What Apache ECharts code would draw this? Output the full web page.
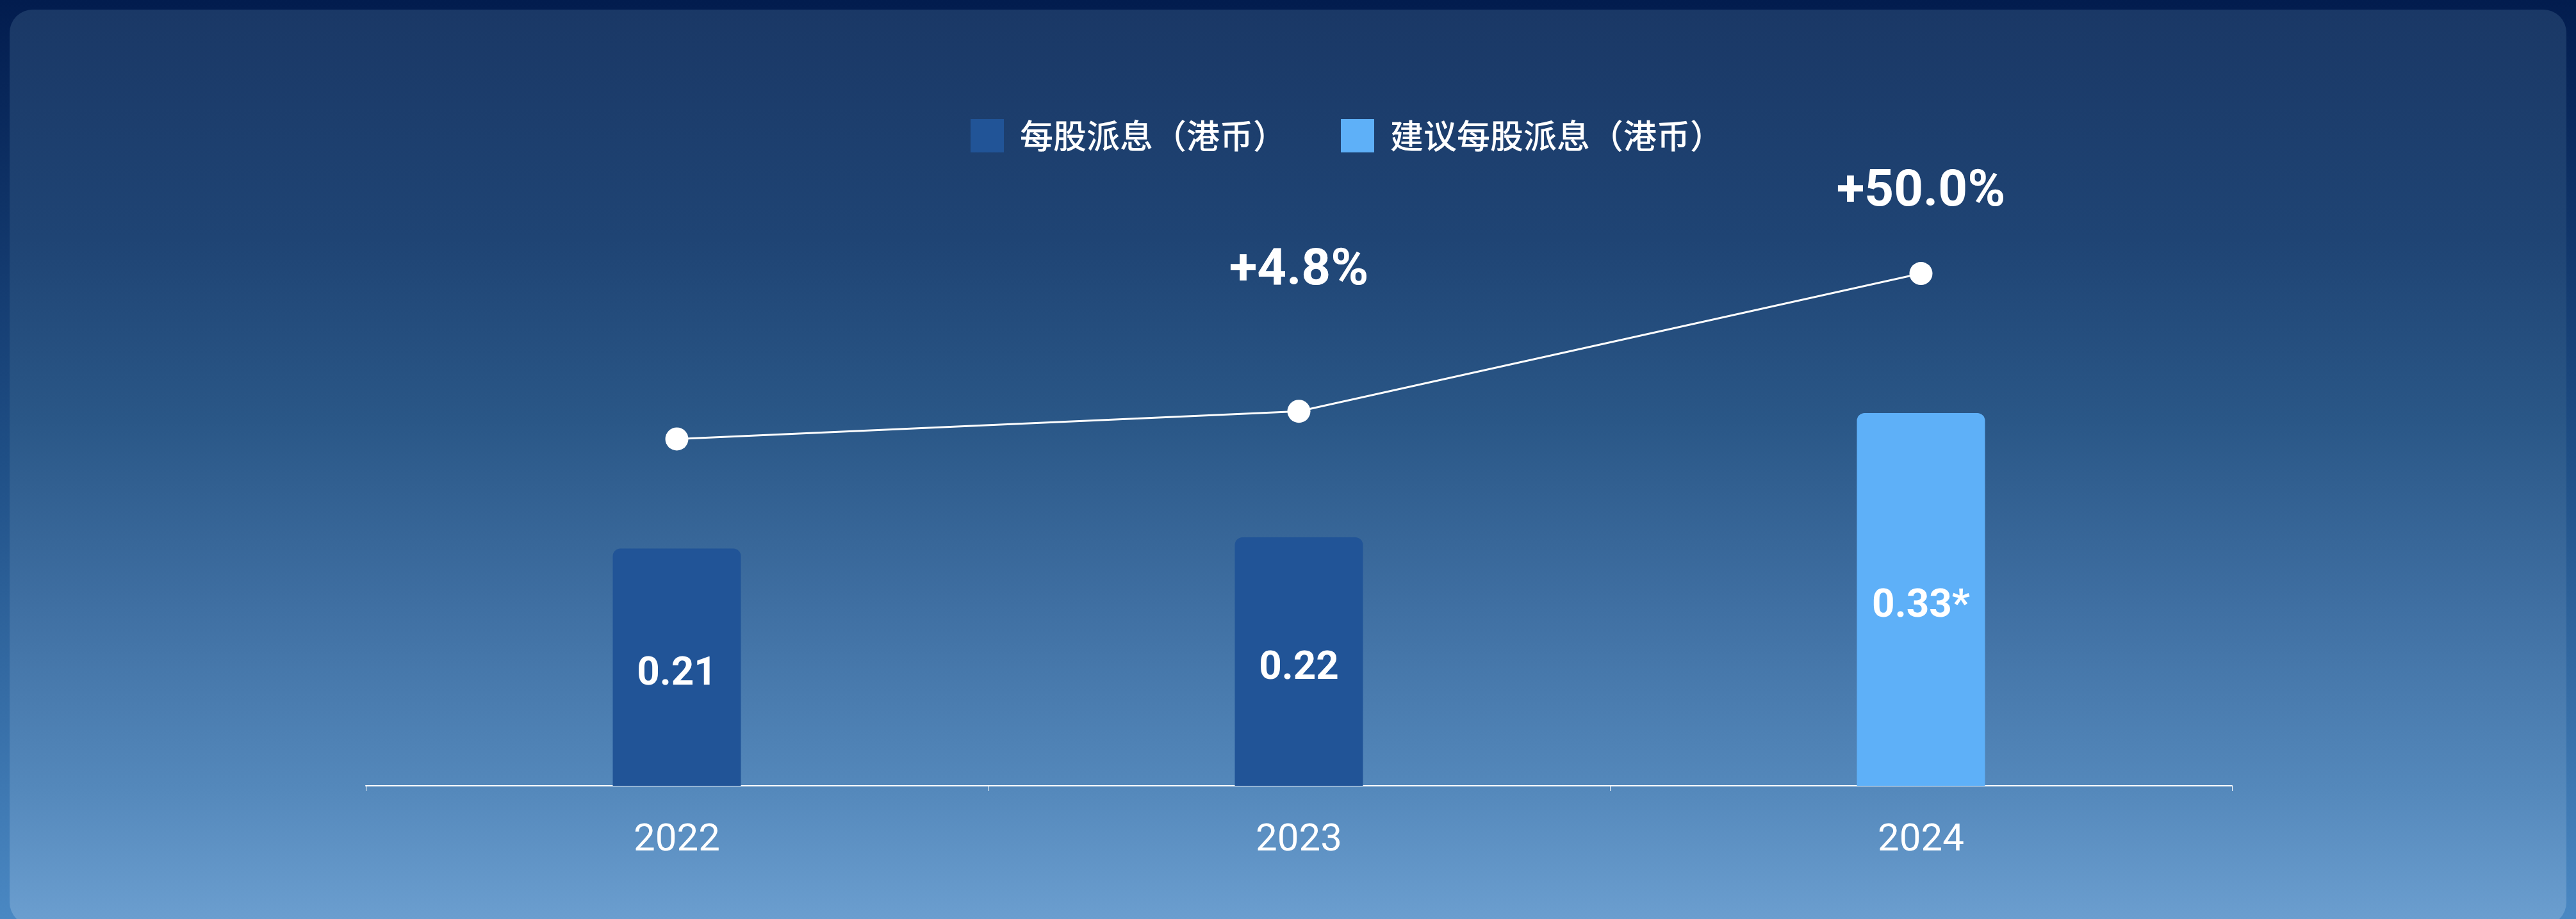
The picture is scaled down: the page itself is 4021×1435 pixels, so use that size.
<!DOCTYPE html>
<html>
<head>
<meta charset="utf-8">
<style>
html,body{margin:0;padding:0;width:4021px;height:1435px;overflow:hidden;background:#021d4f;}
#chart{width:4021px;height:1435px;}
</style>
<script src="https://cdn.jsdelivr.net/npm/echarts@6/dist/echarts.min.js"></script>
</head>
<body>
<div id="chart"></div>
<script>
var categories = ['2022', '2023', '2024'];
var seriesNames = ['每股派息（港币）', '建议每股派息（港币）'];
var dividend = [0.21, 0.22, '-'];
var proposedDividend = ['-', '-', 0.33];
var barLabels = ['0.21', '0.22', '0.33*'];
var trendLine = [0.614, 0.663, 0.907];
var growthLabels = ['', '+4.8%', '+50.0%'];
var growthLabelDistance = [0, 160, 68];

var chart = echarts.init(document.getElementById('chart'), null, {renderer: 'canvas'});

function barLabel(p) { return barLabels[p.dataIndex]; }

var lineData = trendLine.map(function (v, i) {
  return {
    value: v,
    label: {
      show: growthLabels[i] !== '',
      distance: growthLabelDistance[i]
    }
  };
});

var option = {
  backgroundColor: {
    type: 'linear', x: 0, y: 0, x2: 0, y2: 1,
    colorStops: [
      {offset: 0, color: '#021c4e'},
      {offset: 0.5, color: '#1f4f86'},
      {offset: 1, color: '#4a88c3'}
    ]
  },
  graphic: [{
    type: 'rect',
    z: -10,
    silent: true,
    shape: {x: 15, y: 15, width: 3991, height: 1430, r: 36},
    style: {
      fill: {
        type: 'linear', x: 0, y: 0, x2: 0, y2: 1,
        colorStops: [
          {offset: 0, color: '#1a3866'},
          {offset: 0.25, color: '#1f4474'},
          {offset: 0.45, color: '#2a5787'},
          {offset: 0.65, color: '#3f6fa2'},
          {offset: 0.85, color: '#5488bb'},
          {offset: 1, color: '#6c9fd0'}
        ]
      }
    }
  }],
  legend: {
    left: 1510,
    top: 181,
    itemWidth: 52,
    itemHeight: 52,
    itemGap: 85,
    icon: 'rect',
    data: seriesNames,
    textStyle: {
      color: '#ffffff',
      fontSize: 52,
      fontWeight: 500,
      fontFamily: 'Noto Sans CJK SC',
      padding: [0, 0, 0, 20]
    }
  },
  grid: {left: 571, right: 537, top: 345, bottom: 208, containLabel: false},
  xAxis: {
    type: 'category',
    data: categories,
    boundaryGap: true,
    axisLine: {show: true, lineStyle: {color: '#ffffff', width: 2}},
    axisTick: {show: true, length: 8, lineStyle: {color: '#ffffff', width: 1}},
    axisLabel: {color: '#ffffff', fontSize: 60, fontFamily: 'Roboto', margin: 56},
    splitLine: {show: false}
  },
  yAxis: [
    {type: 'value', min: 0, max: 0.5, show: false, splitLine: {show: false}},
    {type: 'value', min: 0, max: 1, show: false, splitLine: {show: false}}
  ],
  series: [
    {
      name: seriesNames[0],
      type: 'bar',
      data: dividend,
      barWidth: 200,
      barGap: '-100%',
      itemStyle: {color: '#215497', borderRadius: [12, 12, 0, 0]},
      label: {
        show: true, position: 'inside', offset: [0, 12], formatter: barLabel,
        color: '#ffffff', fontSize: 62, fontWeight: 'bold', fontFamily: 'Roboto'
      }
    },
    {
      name: seriesNames[1],
      type: 'bar',
      data: proposedDividend,
      barWidth: 200,
      barGap: '-100%',
      itemStyle: {color: '#5eb0f8', borderRadius: [12, 12, 0, 0]},
      label: {
        show: true, position: 'inside', offset: [0, 12], formatter: barLabel,
        color: '#ffffff', fontSize: 62, fontWeight: 'bold', fontFamily: 'Roboto'
      }
    },
    {
      name: 'trend',
      type: 'line',
      yAxisIndex: 1,
      data: lineData,
      symbol: 'circle',
      symbolSize: 36,
      z: 5,
      itemStyle: {color: '#ffffff'},
      lineStyle: {color: '#ffffff', width: 3},
      label: {
        position: 'top',
        formatter: function (p) { return growthLabels[p.dataIndex]; },
        color: '#ffffff', fontSize: 80, fontWeight: 'bold', fontFamily: 'Roboto'
      },
      emphasis: {disabled: true}
    }
  ],
  animation: false
};
chart.setOption(option);
</script>
</body>
</html>
